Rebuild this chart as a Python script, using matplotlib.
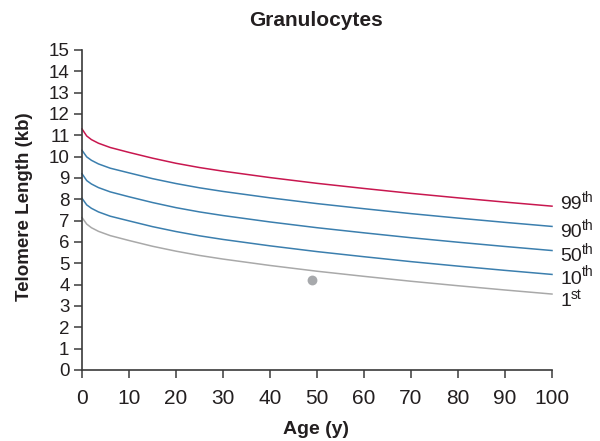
import matplotlib
matplotlib.use("Agg")
import matplotlib.pyplot as plt

plt.rcParams['font.family'] = ['Liberation Sans', 'DejaVu Sans']

ages = [0, 1, 2, 3.5, 6, 10, 15, 20, 25, 30, 40, 50, 55, 60, 70, 80, 85, 90, 100]
p99 = [11.30, 10.97, 10.80, 10.63, 10.43, 10.20, 9.93, 9.69, 9.49, 9.32, 9.02, 8.75, 8.63, 8.51, 8.28, 8.07, 7.97, 7.87, 7.68]
p90 = [10.30, 9.99, 9.83, 9.66, 9.46, 9.24, 8.97, 8.74, 8.54, 8.37, 8.07, 7.80, 7.68, 7.56, 7.33, 7.12, 7.02, 6.92, 6.73]
p50 = [9.20, 8.88, 8.72, 8.55, 8.35, 8.12, 7.85, 7.61, 7.41, 7.24, 6.94, 6.67, 6.55, 6.43, 6.20, 5.99, 5.89, 5.79, 5.60]
p10 = [8.05, 7.74, 7.58, 7.41, 7.21, 6.99, 6.72, 6.49, 6.29, 6.12, 5.82, 5.55, 5.43, 5.31, 5.08, 4.87, 4.77, 4.67, 4.48]
p1 = [7.15, 6.84, 6.67, 6.50, 6.30, 6.07, 5.80, 5.57, 5.37, 5.20, 4.90, 4.63, 4.51, 4.39, 4.16, 3.95, 3.85, 3.75, 3.56]

series = [p99, p90, p50, p10, p1]
labels = ['99', '90', '50', '10', '1']
suffixes = ['th', 'th', 'th', 'th', 'st']
colors = ['#c8174f', '#3b7fae', '#3b7fae', '#3b7fae', '#a9a9a9']

point_age = [49]
point_val = [4.22]

fig = plt.figure(figsize=(6, 4.41), dpi=100)
ax = fig.add_axes([82/600, 71/441, (552-82)/600, (370-50)/441])

for vals, c in zip(series, colors):
    ax.plot(ages, vals, color=c, lw=1.1, clip_on=False)

ax.scatter(point_age, point_val, s=50, color='#a7a9ac', zorder=3, clip_on=False, linewidths=0)

label_dy = [1, -4.5, -4.5, -3.5, -5.5]  # label vertical offset in points
sup_dy = [5, 5, 5, 5, 4.5]
for vals, lab, suf, dy, sdy in zip(series, labels, suffixes, label_dy, sup_dy):
    ax.annotate(lab, xy=(100, vals[-1]), xytext=(6, dy), textcoords='offset points',
                fontsize=14, va='center', ha='left', color='#231f20', annotation_clip=False)
    xoff = 6 + len(lab) * 0.556 * 14
    ax.annotate(suf, xy=(100, vals[-1]), xytext=(xoff, dy + sdy), textcoords='offset points',
                fontsize=10, va='center', ha='left', color='#231f20', annotation_clip=False)

ax.set_xlim(0, 100)
ax.set_ylim(0, 15)
ax.set_xticks(range(0, 101, 10))
ax.set_yticks(range(0, 16))
for s in ['top', 'right']:
    ax.spines[s].set_visible(False)
for s in ['left', 'bottom']:
    ax.spines[s].set_color('#3a3a3a')
    ax.spines[s].set_linewidth(1.2)
ax.tick_params(axis='both', colors='#3a3a3a', labelcolor='#231f20',
               length=6, width=1.1, direction='out')
ax.tick_params(axis='x', labelsize=15, pad=8)
ax.tick_params(axis='y', labelsize=13.5, pad=3)

fig.text(316/600, 1 - 430/441, 'Age (y)', fontsize=14, fontweight='bold',
         ha='center', va='center', color='#231f20')
fig.text(25/600, 1 - 207/441, 'Telomere Length (kb)', fontsize=13.5, fontweight='bold',
         ha='center', va='center', rotation=90, color='#231f20')
fig.text(316/600, 1 - 20/441, 'Granulocytes', fontsize=15, fontweight='bold',
         ha='center', va='center', color='#231f20')

fig.savefig('out.png', dpi=100)
